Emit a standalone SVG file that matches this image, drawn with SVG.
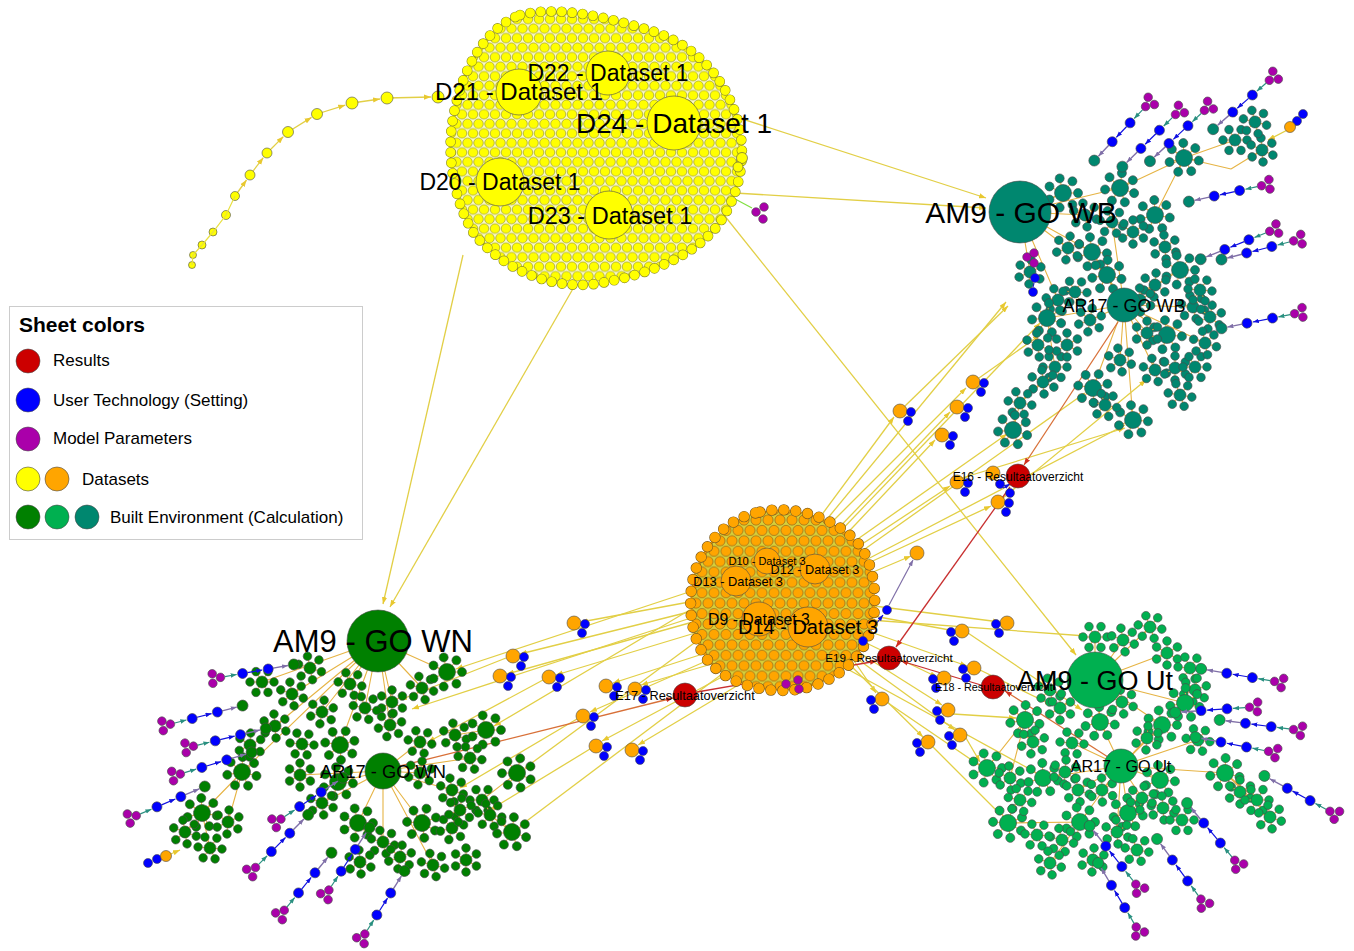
<svg xmlns="http://www.w3.org/2000/svg" width="1354" height="951" viewBox="0 0 1354 951">
<style>
.t{font-family:"Liberation Sans",Arial,Helvetica,sans-serif;fill:#000}
.n{stroke:#4a4a4a;stroke-width:.6}
.ye{stroke:#e2cf46;stroke-width:1.3;fill:none;marker-end:url(#ay)}
.tan{stroke:#e6b445;stroke-width:1.1;fill:none}
.rd{stroke:#c83030;stroke-width:1.3;fill:none;marker-end:url(#ar)}
.ro{stroke:#d87038;stroke-width:1.3;fill:none;marker-end:url(#ar)}
.y{fill:#ffff00}.o{fill:#ffa500}.r{fill:#cc0000}.b{fill:#0000ff}.m{fill:#aa00aa}
.g1{fill:#008000}.g2{fill:#00b050}.g3{fill:#00876f}
</style>
<defs>
<marker id="ay" viewBox="0 0 8 6" refX="8" refY="3" markerWidth="7" markerHeight="5.5" markerUnits="userSpaceOnUse" orient="auto"><path d="M0,0L8,3L0,6z" fill="#e8c830"/></marker>
<marker id="ar" viewBox="0 0 8 6" refX="8" refY="3" markerWidth="7" markerHeight="5.5" markerUnits="userSpaceOnUse" orient="auto"><path d="M0,0L8,3L0,6z" fill="#d03020"/></marker>
<marker id="ab" viewBox="0 0 8 6" refX="8" refY="3" markerWidth="6" markerHeight="5" markerUnits="userSpaceOnUse" orient="auto"><path d="M0,0L8,3L0,6z" fill="#1010e0"/></marker>
<marker id="at" viewBox="0 0 8 6" refX="8" refY="3" markerWidth="6" markerHeight="5" markerUnits="userSpaceOnUse" orient="auto"><path d="M0,0L8,3L0,6z" fill="#2a9080"/></marker>
<marker id="ap" viewBox="0 0 8 6" refX="8" refY="3" markerWidth="6" markerHeight="5" markerUnits="userSpaceOnUse" orient="auto"><path d="M0,0L8,3L0,6z" fill="#8070a8"/></marker>
<marker id="ag" viewBox="0 0 8 6" refX="8" refY="3" markerWidth="6" markerHeight="5" markerUnits="userSpaceOnUse" orient="auto"><path d="M0,0L8,3L0,6z" fill="#80e040"/></marker>
<pattern id="py" width="11" height="19.05" patternUnits="userSpaceOnUse"><g fill="#ffff00" stroke="#8c8c2a" stroke-width=".6"><circle cx="0" cy="0" r="4.8"/><circle cx="11" cy="0" r="4.8"/><circle cx="0" cy="19.05" r="4.8"/><circle cx="11" cy="19.05" r="4.8"/><circle cx="5.5" cy="9.525" r="4.8"/></g></pattern>
<pattern id="po" width="12" height="20.8" patternUnits="userSpaceOnUse"><g fill="#ffa500" stroke="#7a5a20" stroke-width=".6"><circle cx="0" cy="0" r="5.1"/><circle cx="12" cy="0" r="5.1"/><circle cx="0" cy="20.8" r="5.1"/><circle cx="12" cy="20.8" r="5.1"/><circle cx="6" cy="10.4" r="5.1"/></g></pattern>
<g id="f"><path d="M0 0L12 0M0 0L6 10.4M0 0L-6 10.4M0 0L-12 0M0 0L-6 -10.4M0 0L6 -10.4" stroke="#e6b445" stroke-width="1"/><circle r="4.3" cx="12" cy="0"/><circle r="4.3" cx="6" cy="10.4"/><circle r="4.3" cx="-6" cy="10.4"/><circle r="4.3" cx="-12" cy="0"/><circle r="4.3" cx="-6" cy="-10.4"/><circle r="4.3" cx="6" cy="-10.4"/><circle r="6"/></g>
<g id="F"><path d="M0 0L15 0M0 0L9.4 11.7M0 0L-3.3 14.6M0 0L-13.5 6.5M0 0L-13.5 -6.5M0 0L-3.3 -14.6M0 0L9.4 -11.7" stroke="#e6b445" stroke-width="1"/><circle r="4.5" cx="15" cy="0"/><circle r="4.5" cx="9.4" cy="11.7"/><circle r="4.5" cx="-3.3" cy="14.6"/><circle r="4.5" cx="-13.5" cy="6.5"/><circle r="4.5" cx="-13.5" cy="-6.5"/><circle r="4.5" cx="-3.3" cy="-14.6"/><circle r="4.5" cx="9.4" cy="-11.7"/><circle r="8.5"/></g>
<g id="ch"><path d="M8 0H20" stroke="#2a9080" stroke-width="1.2" marker-end="url(#at)"/><path d="M31 0H46" stroke="#1010e0" stroke-width="1.2" marker-end="url(#ab)"/><path d="M57 0H72" stroke="#8070a8" stroke-width="1.4" marker-end="url(#ap)"/><circle cx="-4" cy="-5" r="4.3" fill="#aa00aa"/><circle cx="-5" cy="4.5" r="4.3" fill="#aa00aa"/><circle cx="3.5" cy="0" r="4.3" fill="#aa00aa"/><circle cx="26" cy="0" r="5" fill="#0000ff"/><circle cx="52" cy="0" r="5" fill="#0000ff"/><circle cx="78" cy="0" r="5.5"/></g>
<g id="ob"><circle r="7" fill="#ffa500"/><circle cx="11" cy="1" r="4.5" fill="#0000ff"/><circle cx="8" cy="10" r="4.5" fill="#0000ff"/></g>
</defs>
<rect width="1354" height="951" fill="#ffffff"/>

<g id="connectors">
<g class="tan">
<path d="M378 641L262 682M378 641L292 694M378 641L322 712M378 641L350 684M378 641L392 702M378 641L422 688M378 641L447 672M378 641L340 745M378 641L390 725M378 641L275 726M378 641L242 772M383 771L338 782M383 771L358 823M383 771L383 842M383 771L422 823M383 771L420 773M383 771L452 790M383 771L300 775M383 771L420 742M383 771L433 865M242 772L202 813M242 772L228 822M486 730L455 735M517 773L482 800M512 832L490 815M202 813L185 832M202 813L210 848M378 641L365 708M383 771L470 758M383 771L322 803"/>
<path d="M1020 212L1063 193M1020 212L1068 248M1020 212L1092 252M1020 212L1058 300M1020 212L1030 272M1020 212L1085 215M1020 212L1120 188M1124 305L1107 275M1124 305L1155 285M1124 305L1147 333M1124 305L1167 335M1124 305L1193 307M1124 305L1090 320M1124 305L1120 360M1124 305L1180 270M1124 305L1092 252M1124 305L1047 318M1124 305L1155 370M1124 305L1133 420M1124 305L1093 388M1047 318L1055 367L1043 382L1020 403L1013 430M1184 158L1235 140M1184 158L1231 169M1231 169L1262 150M1120 188L1184 158M1155 215L1184 158M1124 305L1112 222M1124 305L1140 300M1124 305L1205 343"/>
<path d="M1095 680L1095 637M1095 680L1123 640M1095 680L1150 627M1095 680L1167 653M1095 680L1100 722M1095 680L1060 708M1095 680L1162 725M1095 680L1185 703M1121 766L1100 722M1121 766L1072 743M1121 766L1078 790M1121 766L1128 813M1121 766L1142 798M1121 766L1160 780M1121 766L1117 832M1121 766L1080 822M1121 766L1162 725M1121 766L1147 738M1121 766L1043 778M1121 766L1225 773M1225 773L1257 800M1225 773L1270 817M1025 720L987 768M1025 720L1010 778M1080 822L1050 863M1080 822L1008 823M1121 766L1198 740M1121 766L1102 790M1095 680L1122 702"/>
</g>
<g class="ye">
<line x1="463" y1="255" x2="383" y2="604"/>
<line x1="578" y1="280" x2="390" y2="607"/>
<line x1="693" y1="103" x2="986" y2="198"/>
<line x1="718" y1="192" x2="986" y2="208"/>
<line x1="712" y1="200" x2="1076" y2="655"/>
<line x1="235" y1="196" x2="246.5" y2="180"/>
<line x1="250" y1="175" x2="263.3" y2="157.7"/>
<line x1="267" y1="153" x2="283.4" y2="136.6"/>
<line x1="288" y1="132" x2="311.5" y2="117.4"/>
<line x1="317" y1="114" x2="345.3" y2="105.1"/>
<line x1="352" y1="103" x2="380" y2="99"/>
<line x1="387" y1="98" x2="431" y2="97"/>
<line x1="812" y1="528" x2="894" y2="417"/>
<line x1="822" y1="532" x2="966" y2="388"/>
<line x1="830" y1="537" x2="950" y2="412"/>
<line x1="838" y1="543" x2="935" y2="440"/>
<line x1="850" y1="552" x2="950" y2="486"/>
<line x1="862" y1="566" x2="991" y2="506"/>
<line x1="866" y1="575" x2="911" y2="556"/>
<line x1="818" y1="530" x2="1006" y2="302"/>
<line x1="832" y1="540" x2="1040" y2="323"/>
<line x1="845" y1="548" x2="1007" y2="434"/>
<line x1="855" y1="556" x2="1085" y2="393"/>
<line x1="862" y1="562" x2="1125" y2="425"/>
<line x1="905" y1="406" x2="1008" y2="306"/>
<line x1="979" y1="378" x2="1040" y2="335"/>
<line x1="1003" y1="498" x2="1146" y2="380"/>
<line x1="962" y1="478" x2="1125" y2="428"/>
<line x1="868" y1="615" x2="955" y2="631"/>
<line x1="866" y1="605" x2="1000" y2="622"/>
<line x1="870" y1="620" x2="1086" y2="636"/>
<line x1="860" y1="640" x2="937" y2="677"/>
<line x1="865" y1="630" x2="967" y2="666"/>
<line x1="850" y1="655" x2="876" y2="693"/>
<line x1="855" y1="650" x2="942" y2="705"/>
<line x1="845" y1="660" x2="923" y2="737"/>
<line x1="852" y1="655" x2="955" y2="730"/>
<line x1="968" y1="633" x2="1082" y2="710"/>
<line x1="980" y1="670" x2="1052" y2="705"/>
<line x1="953" y1="714" x2="1016" y2="718"/>
<line x1="966" y1="738" x2="980" y2="762"/>
<line x1="933" y1="747" x2="1001" y2="815"/>
<line x1="888" y1="703" x2="979" y2="765"/>
<line x1="840" y1="665" x2="1035" y2="772"/>
<line x1="700" y1="600" x2="581" y2="622"/>
<line x1="697" y1="610" x2="520" y2="654"/>
<line x1="700" y1="620" x2="507" y2="674"/>
<line x1="705" y1="630" x2="556" y2="675"/>
<line x1="715" y1="650" x2="613" y2="683"/>
<line x1="725" y1="660" x2="641" y2="685"/>
<line x1="720" y1="655" x2="590" y2="712"/>
<line x1="735" y1="670" x2="602" y2="741"/>
<line x1="750" y1="678" x2="638" y2="745"/>
<line x1="695" y1="590" x2="456" y2="669"/>
<line x1="698" y1="605" x2="494" y2="726"/>
<line x1="705" y1="635" x2="525" y2="768"/>
<line x1="730" y1="668" x2="520" y2="826"/>
<line x1="700" y1="615" x2="412" y2="709"/>
<line x1="506" y1="658" x2="400" y2="700"/>
<line x1="543" y1="680" x2="428" y2="742"/>
<line x1="577" y1="719" x2="460" y2="788"/>
<line x1="590" y1="749" x2="490" y2="810"/>
<line x1="1297" y1="125" x2="1268" y2="140"/>
<line x1="166" y1="856" x2="180" y2="850"/>
</g>
<line class="ro" x1="1118" y1="322" x2="1024" y2="465"/>
<line class="rd" x1="1010" y1="487" x2="896" y2="647"/>
<line class="rd" x1="981" y1="685" x2="901" y2="661"/>
<line class="rd" x1="697" y1="692" x2="877" y2="661"/>
<line class="ro" x1="400" y1="766" x2="673" y2="698"/>
<line class="ro" x1="1108" y1="757" x2="1005" y2="691"/>
<line x1="752" y1="208" x2="720" y2="191" stroke="#80e040" stroke-width="1.2" marker-end="url(#ag)"/>
<line x1="786" y1="683" x2="772" y2="669" stroke="#80e040" stroke-width="1.2" marker-end="url(#ag)"/>
<line x1="866" y1="637" x2="883" y2="615" stroke="#1010e0" stroke-width="1.2" marker-end="url(#ab)"/>
<line x1="889" y1="605" x2="913" y2="560" stroke="#8070a8" stroke-width="1.2" marker-end="url(#ap)"/>
<line x1="1003" y1="488" x2="1010" y2="484" stroke="#1010e0" stroke-width="1.2" marker-end="url(#ab)"/>
<line x1="1034" y1="268" x2="1035" y2="272" stroke="#2a9080" stroke-width="1.2"/>
<line x1="1034" y1="283" x2="1033" y2="287" stroke="#1010e0" stroke-width="1.2"/>
</g>

<g id="dataset1-cluster">
<path d="M520,15 C560,5 610,18 655,32 C700,48 725,80 737,118 C748,155 740,195 718,225 C695,255 650,275 595,284 C545,290 500,265 475,235 C455,205 447,160 452,125 C458,80 480,30 520,15 Z" fill="#fbfbc8"/>
<path d="M520,15 C560,5 610,18 655,32 C700,48 725,80 737,118 C748,155 740,195 718,225 C695,255 650,275 595,284 C545,290 500,265 475,235 C455,205 447,160 452,125 C458,80 480,30 520,15 Z" fill="url(#py)"/>
<path d="M520,15 C560,5 610,18 655,32 C700,48 725,80 737,118 C748,155 740,195 718,225 C695,255 650,275 595,284 C545,290 500,265 475,235 C455,205 447,160 452,125 C458,80 480,30 520,15 Z" fill="none" stroke="#8c8c2a" stroke-width="10.6" stroke-linecap="round" stroke-dasharray="0 10.5"/>
<path d="M520,15 C560,5 610,18 655,32 C700,48 725,80 737,118 C748,155 740,195 718,225 C695,255 650,275 595,284 C545,290 500,265 475,235 C455,205 447,160 452,125 C458,80 480,30 520,15 Z" fill="none" stroke="#ffff00" stroke-width="9.4" stroke-linecap="round" stroke-dasharray="0 10.5"/>
<g class="n y">
<circle cx="192" cy="265" r="3.5"/><circle cx="193" cy="255" r="3.5"/><circle cx="202" cy="245" r="4"/><circle cx="213" cy="232" r="4"/><circle cx="226" cy="215" r="4.5"/><circle cx="235" cy="196" r="4.5"/><circle cx="250" cy="175" r="5"/><circle cx="267" cy="153" r="5"/><circle cx="288" cy="132" r="5.5"/><circle cx="317" cy="114" r="5.5"/><circle cx="352" cy="103" r="6"/><circle cx="387" cy="98" r="6"/><circle cx="438" cy="97" r="6"/>
<circle cx="742" cy="158" r="5.5"/><circle cx="738" cy="167" r="5"/>
</g>
<polyline points="192,265 193,255 202,245 213,232 226,215 235,196" fill="none" stroke="#e8e040" stroke-width="1.2"/>
</g>

<g id="dataset3-cluster">
<path d="M760,512 C790,505 830,515 855,540 C875,560 878,600 872,625 C865,655 840,680 805,688 C775,695 735,688 712,665 C692,645 688,610 692,585 C697,550 725,518 760,512 Z" fill="#d6cf3a"/>
<path d="M760,512 C790,505 830,515 855,540 C875,560 878,600 872,625 C865,655 840,680 805,688 C775,695 735,688 712,665 C692,645 688,610 692,585 C697,550 725,518 760,512 Z" fill="url(#po)"/>
<path d="M760,512 C790,505 830,515 855,540 C875,560 878,600 872,625 C865,655 840,680 805,688 C775,695 735,688 712,665 C692,645 688,610 692,585 C697,550 725,518 760,512 Z" fill="none" stroke="#7a5a20" stroke-width="11.4" stroke-linecap="round" stroke-dasharray="0 12"/>
<path d="M760,512 C790,505 830,515 855,540 C875,560 878,600 872,625 C865,655 840,680 805,688 C775,695 735,688 712,665 C692,645 688,610 692,585 C697,550 725,518 760,512 Z" fill="none" stroke="#ffa500" stroke-width="10.2" stroke-linecap="round" stroke-dasharray="0 12"/>
</g>

<g id="GO-WN-cluster" class="n" fill="#008000">
<use href="#f" transform="translate(262 682)"/><use href="#f" transform="translate(292 694) rotate(20)"/><use href="#f" transform="translate(322 712) rotate(40)"/><use href="#f" transform="translate(350 684) rotate(10)"/><use href="#f" transform="translate(392 702) rotate(30)"/><use href="#f" transform="translate(422 688) rotate(15)"/><use href="#F" transform="translate(447 672)"/>
<use href="#f" transform="translate(275 726) rotate(25)"/><use href="#f" transform="translate(302 744) rotate(5)"/><use href="#F" transform="translate(340 745) rotate(35)"/><use href="#f" transform="translate(390 725) rotate(45)"/><use href="#f" transform="translate(420 742) rotate(10)"/><use href="#f" transform="translate(455 735) rotate(20)"/><use href="#F" transform="translate(486 730)"/>
<use href="#F" transform="translate(242 772) rotate(15)"/><use href="#f" transform="translate(300 775) rotate(30)"/><use href="#F" transform="translate(338 782) rotate(5)"/><use href="#f" transform="translate(420 773) rotate(40)"/><use href="#f" transform="translate(452 790) rotate(20)"/><use href="#f" transform="translate(482 800)"/><use href="#F" transform="translate(517 773) rotate(25)"/>
<use href="#F" transform="translate(202 813) rotate(10)"/><use href="#f" transform="translate(228 822) rotate(35)"/><use href="#f" transform="translate(185 832) rotate(20)"/><use href="#F" transform="translate(358 823)"/><use href="#f" transform="translate(383 842) rotate(15)"/><use href="#F" transform="translate(422 823) rotate(30)"/><use href="#f" transform="translate(452 828) rotate(45)"/><use href="#f" transform="translate(490 815) rotate(10)"/><use href="#F" transform="translate(512 832) rotate(20)"/>
<use href="#f" transform="translate(210 848) rotate(5)"/><use href="#f" transform="translate(360 862) rotate(25)"/><use href="#f" transform="translate(400 857) rotate(40)"/><use href="#f" transform="translate(433 865) rotate(15)"/><use href="#f" transform="translate(466 860) rotate(30)"/>
<use href="#f" transform="translate(365 708) rotate(12)"/><use href="#f" transform="translate(250 745) rotate(33)"/><use href="#f" transform="translate(470 758) rotate(8)"/><use href="#f" transform="translate(322 803) rotate(22)"/><use href="#f" transform="translate(460 810) rotate(38)"/><use href="#f" transform="translate(310 668) rotate(18)"/>
<use href="#ch" transform="translate(217 678) rotate(-10)"/><use href="#ch" transform="translate(167 725) rotate(-14.4)"/><use href="#ch" transform="translate(190 747) rotate(-13.7)"/><use href="#ch" transform="translate(177 775) rotate(-16.9)"/><use href="#ch" transform="translate(133 817) rotate(-23)"/><use href="#ch" transform="translate(278 821) rotate(-33.7)"/><use href="#ch" transform="translate(253 870) rotate(-45)"/><use href="#ch" transform="translate(327 893) rotate(-57)"/><use href="#ch" transform="translate(282 913) rotate(-50.6)"/><use href="#ch" transform="translate(363 937) rotate(-57.8)"/>
<circle cx="148" cy="863" r="4.5" class="b"/><circle cx="157" cy="859" r="4.5" class="b"/><circle cx="166" cy="856" r="5.5" class="o"/>
</g>

<g id="GO-WB-cluster" class="n" fill="#00876f">
<use href="#F" transform="translate(1063 193)"/><use href="#F" transform="translate(1120 188) rotate(20)"/><use href="#F" transform="translate(1155 215) rotate(10)"/><use href="#f" transform="translate(1133 232) rotate(30)"/><use href="#F" transform="translate(1092 252) rotate(5)"/><use href="#f" transform="translate(1068 248) rotate(40)"/><use href="#F" transform="translate(1107 275) rotate(15)"/><use href="#f" transform="translate(1165 247) rotate(25)"/><use href="#F" transform="translate(1180 270)"/><use href="#f" transform="translate(1155 285) rotate(35)"/>
<use href="#f" transform="translate(1058 300) rotate(10)"/><use href="#F" transform="translate(1047 318) rotate(20)"/><use href="#F" transform="translate(1167 335) rotate(5)"/><use href="#f" transform="translate(1147 333) rotate(30)"/><use href="#f" transform="translate(1193 307) rotate(15)"/><use href="#f" transform="translate(1210 317) rotate(40)"/><use href="#f" transform="translate(1055 367)"/><use href="#f" transform="translate(1043 382) rotate(25)"/><use href="#f" transform="translate(1020 403) rotate(10)"/><use href="#F" transform="translate(1013 430) rotate(20)"/>
<use href="#F" transform="translate(1093 388) rotate(35)"/><use href="#F" transform="translate(1133 420) rotate(5)"/><use href="#f" transform="translate(1155 370) rotate(15)"/><use href="#f" transform="translate(1175 368) rotate(30)"/><use href="#f" transform="translate(1195 367)"/><use href="#f" transform="translate(1085 215) rotate(20)"/><use href="#F" transform="translate(1184 158) rotate(10)"/><use href="#f" transform="translate(1235 140)"/><use href="#f" transform="translate(1262 150) rotate(25)"/><use href="#f" transform="translate(1255 122) rotate(15)"/>
<use href="#f" transform="translate(1030 272) rotate(35)"/><use href="#f" transform="translate(1200 290) rotate(5)"/><use href="#f" transform="translate(1120 360) rotate(20)"/><use href="#f" transform="translate(1090 320) rotate(40)"/><use href="#f" transform="translate(1180 395) rotate(10)"/><use href="#f" transform="translate(1067 345) rotate(30)"/>
<use href="#f" transform="translate(1112 222) rotate(8)"/><use href="#f" transform="translate(1140 300) rotate(28)"/><use href="#f" transform="translate(1205 343) rotate(18)"/><use href="#f" transform="translate(1075 292) rotate(3)"/><use href="#f" transform="translate(1038 345) rotate(24)"/><use href="#f" transform="translate(1105 405) rotate(12)"/>
<use href="#ch" transform="translate(1148 104) rotate(133.5)"/><use href="#ch" transform="translate(1178 112) rotate(135.5)"/><use href="#ch" transform="translate(1207 108) rotate(137)"/><use href="#ch" transform="translate(1272 78) rotate(139)"/><use href="#ch" transform="translate(1265 185) rotate(167.7)"/><use href="#ch" transform="translate(1273 230) rotate(158)"/><use href="#ch" transform="translate(1297 240) rotate(165.5)"/><use href="#ch" transform="translate(1298 313) rotate(168.7)"/>
<circle cx="1303" cy="114" r="4.5" class="b"/><circle cx="1297" cy="121" r="4.5" class="b"/><circle cx="1290" cy="127" r="5.5" class="o"/>
<circle cx="1027" cy="257" r="4.3" class="m"/><circle cx="1034" cy="253" r="4.3" class="m"/><circle cx="1034" cy="263" r="4.3" class="m"/><circle cx="1035" cy="278" r="4.5" class="b"/><circle cx="1033" cy="292" r="4.5" class="b"/>
</g>

<g id="GO-Ut-cluster" class="n" fill="#00b050">
<use href="#f" transform="translate(1095 637)"/><use href="#f" transform="translate(1123 640) rotate(20)"/><use href="#f" transform="translate(1150 627) rotate(10)"/><use href="#f" transform="translate(1167 653) rotate(30)"/><use href="#f" transform="translate(1190 668) rotate(5)"/><use href="#f" transform="translate(1195 690) rotate(40)"/><use href="#F" transform="translate(1185 703) rotate(15)"/><use href="#F" transform="translate(1162 725)"/><use href="#f" transform="translate(1147 738) rotate(35)"/><use href="#F" transform="translate(1100 722) rotate(10)"/>
<use href="#f" transform="translate(1072 743) rotate(5)"/><use href="#f" transform="translate(1060 708) rotate(30)"/><use href="#F" transform="translate(1025 720) rotate(15)"/><use href="#f" transform="translate(1033 742) rotate(40)"/><use href="#F" transform="translate(987 768)"/><use href="#f" transform="translate(1010 778) rotate(25)"/><use href="#F" transform="translate(1043 778) rotate(10)"/><use href="#f" transform="translate(1065 772) rotate(35)"/><use href="#f" transform="translate(1078 790) rotate(20)"/><use href="#F" transform="translate(1160 780) rotate(5)"/>
<use href="#F" transform="translate(1225 773) rotate(15)"/><use href="#f" transform="translate(1240 792) rotate(30)"/><use href="#f" transform="translate(1257 800)"/><use href="#f" transform="translate(1270 817) rotate(20)"/><use href="#F" transform="translate(1128 813) rotate(10)"/><use href="#f" transform="translate(1142 798) rotate(40)"/><use href="#f" transform="translate(1117 832) rotate(25)"/><use href="#F" transform="translate(1080 822)"/><use href="#f" transform="translate(1062 840) rotate(15)"/><use href="#F" transform="translate(1008 823) rotate(30)"/>
<use href="#f" transform="translate(1037 835) rotate(5)"/><use href="#f" transform="translate(1050 863) rotate(20)"/><use href="#f" transform="translate(1093 860) rotate(35)"/><use href="#f" transform="translate(1137 850) rotate(10)"/><use href="#f" transform="translate(1163 808) rotate(25)"/><use href="#f" transform="translate(1182 820)"/>
<use href="#f" transform="translate(1122 702) rotate(22)"/><use href="#f" transform="translate(1198 740) rotate(8)"/><use href="#f" transform="translate(1102 790) rotate(28)"/><use href="#f" transform="translate(1020 800) rotate(12)"/><use href="#f" transform="translate(1050 690) rotate(18)"/>
<use href="#ch" transform="translate(1278 682) rotate(189.7)"/><use href="#ch" transform="translate(1253 707) rotate(176)"/><use href="#ch" transform="translate(1297 730) rotate(187.4)"/><use href="#ch" transform="translate(1272 752) rotate(191)"/><use href="#ch" transform="translate(1333 813) rotate(208.4)"/><use href="#ch" transform="translate(1237 863) rotate(230.2)"/><use href="#ch" transform="translate(1203 902) rotate(233.9)"/><use href="#ch" transform="translate(1138 887) rotate(231.7)"/><use href="#ch" transform="translate(1138 930) rotate(239.3)"/>
</g>

<g id="dataset-settings" class="n">
<use href="#ob" x="574" y="623"/><use href="#ob" x="513" y="656"/><use href="#ob" x="500" y="676"/><use href="#ob" x="549" y="677"/><use href="#ob" x="606" y="686"/><use href="#ob" x="635" y="689"/><use href="#ob" x="583" y="716"/><use href="#ob" x="596" y="746"/><use href="#ob" x="632" y="750"/>
<use href="#ob" x="900" y="411"/><use href="#ob" x="973" y="382"/><use href="#ob" x="957" y="407"/><use href="#ob" x="942" y="435"/><use href="#ob" x="957" y="482"/><use href="#ob" x="998" y="502"/>
<use href="#ob" transform="translate(962 631) scale(-1 1)"/><use href="#ob" transform="translate(1007 623) scale(-1 1)"/><use href="#ob" transform="translate(974 668) scale(-1 1)"/><use href="#ob" transform="translate(944 678) scale(-1 1)"/><use href="#ob" transform="translate(948 710) scale(-1 1)"/><use href="#ob" transform="translate(960 735) scale(-1 1)"/><use href="#ob" transform="translate(928 742) scale(-1 1)"/><use href="#ob" transform="translate(882 699) scale(-1 1)"/>
<circle cx="917" cy="553" r="7" class="o"/><circle cx="887" cy="610" r="4.5" class="b"/><circle cx="863" cy="641" r="4.5" class="b"/>
<circle cx="993" cy="473" r="7" class="o"/><circle cx="1000" cy="484" r="4.5" class="b"/><circle cx="1010" cy="493" r="4.5" class="b"/>
<circle cx="756" cy="212" r="4.3" class="m"/><circle cx="764" cy="207" r="4.3" class="m"/><circle cx="763" cy="219" r="4.3" class="m"/>
<circle cx="786" cy="684" r="4.3" class="m"/><circle cx="798" cy="680" r="4.3" class="m"/><circle cx="799" cy="689" r="4.3" class="m"/>
</g>

<g id="D21" class="n y"><circle cx="519" cy="92" r="23"/></g>
<g id="D22" class="n y"><circle cx="608" cy="73" r="22"/></g>
<g id="D24" class="n y"><circle cx="674" cy="123" r="27"/></g>
<g id="D20" class="n y"><circle cx="500" cy="182" r="24"/></g>
<g id="D23" class="n y"><circle cx="609" cy="215" r="24"/></g>
<g id="D10" class="n o"><circle cx="767" cy="561" r="13"/></g>
<g id="D12" class="n o"><circle cx="815" cy="569" r="15"/></g>
<g id="D13" class="n o"><circle cx="736" cy="581" r="15"/></g>
<g id="D9" class="n o"><circle cx="759" cy="619" r="17"/></g>
<g id="D14" class="n o"><circle cx="808" cy="627" r="20"/></g>
<g id="AM9-GO-WB" class="n g3"><circle cx="1020" cy="212" r="31"/></g>
<g id="AR17-GO-WB" class="n g3"><circle cx="1124" cy="305" r="17"/></g>
<g id="AM9-GO-WN" class="n g1"><circle cx="378" cy="641" r="31"/></g>
<g id="AR17-GO-WN" class="n g1"><circle cx="383" cy="771" r="18"/></g>
<g id="AM9-GO-Ut" class="n g2"><circle cx="1095" cy="680" r="28"/></g>
<g id="AR17-GO-Ut" class="n g2"><circle cx="1121" cy="766" r="17"/></g>
<g id="E16" class="n r"><circle cx="1018" cy="476" r="12"/></g>
<g id="E19" class="n r"><circle cx="889" cy="658" r="12"/></g>
<g id="E18" class="n r"><circle cx="993" cy="687" r="12"/></g>
<g id="E17" class="n r"><circle cx="685" cy="695" r="12"/></g>

<g id="labels" class="t" text-anchor="middle">
<text x="519" y="100" font-size="24">D21 - Dataset 1</text>
<text x="608" y="81" font-size="23">D22 - Dataset 1</text>
<text x="674" y="133" font-size="28">D24 - Dataset 1</text>
<text x="500" y="190" font-size="23">D20 - Dataset 1</text>
<text x="610" y="224" font-size="23.5">D23 - Dataset 1</text>
<text x="767" y="565" font-size="11">D10 - Dataset 3</text>
<text x="815" y="573.5" font-size="12.7">D12 - Dataset 3</text>
<text x="738" y="585.5" font-size="12.8">D13 - Dataset 3</text>
<text x="759" y="624.5" font-size="15.8">D9 - Dataset 3</text>
<text x="808" y="634" font-size="20">D14 - Dataset 3</text>
<text x="1021" y="223" font-size="30">AM9 - GO WB</text>
<text x="1124" y="311.5" font-size="18">AR17 - GO WB</text>
<text x="373" y="652" font-size="31">AM9 - GO WN</text>
<text x="383" y="777.5" font-size="18.3">AR17 - GO WN</text>
<text x="1095" y="690" font-size="27">AM9 - GO Ut</text>
<text x="1121" y="772" font-size="16.2">AR17 - GO Ut</text>
<text x="1018" y="480.5" font-size="12">E16 - Resultaatoverzicht</text>
<text x="889" y="662" font-size="11.7">E19 - Resultaatoverzicht</text>
<text x="994" y="691" font-size="10.8">E18 - Resultaatoverzicht</text>
<text x="685" y="699.5" font-size="12.8">E17 - Resultaatoverzicht</text>
</g>

<g id="legend">
<rect x="9.5" y="306.5" width="353" height="233" fill="#ffffff" stroke="#cccccc" stroke-width="1"/>
<text class="t" x="19" y="332" font-size="21" font-weight="bold">Sheet colors</text>
<g class="n">
<circle cx="28" cy="361" r="12" class="r"/>
<circle cx="28" cy="400" r="12" class="b"/>
<circle cx="28" cy="439" r="12" class="m"/>
<circle cx="28" cy="479" r="12" class="y"/><circle cx="57" cy="479" r="12" class="o"/>
<circle cx="28" cy="517" r="12" class="g1"/><circle cx="57" cy="517" r="12" class="g2"/><circle cx="87" cy="517" r="12" class="g3"/>
</g>
<g class="t" font-size="17">
<text x="53" y="366">Results</text>
<text x="53" y="406">User Technology (Setting)</text>
<text x="53" y="444">Model Parameters</text>
<text x="82" y="485">Datasets</text>
<text x="110" y="523">Built Environment (Calculation)</text>
</g>
</g>
</svg>
